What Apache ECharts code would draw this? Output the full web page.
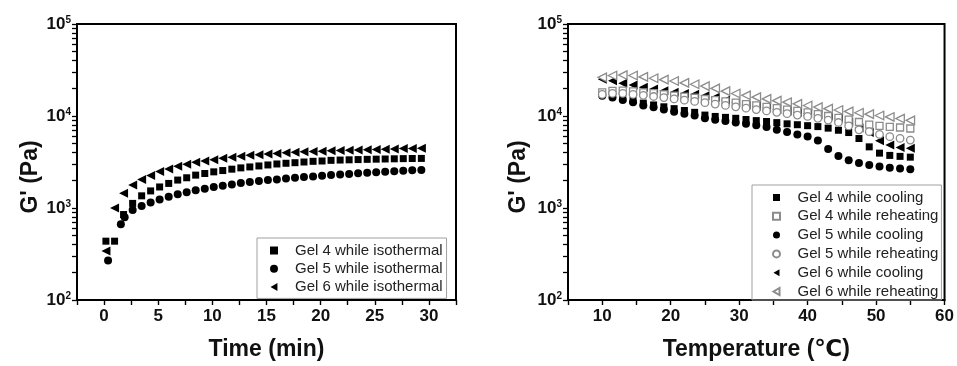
<!DOCTYPE html>
<html>
<head>
<meta charset="utf-8">
<script src="https://cdn.jsdelivr.net/npm/echarts@6/dist/echarts.min.js"></script>
<style>
html,body{margin:0;padding:0;background:#fff;}
#c{width:957px;height:366px;}
</style>
</head>
<body>
<div id="c"></div>
<script>
// ---------- Left panel: isothermal (Time, min) ----------
const timeGrid = [0.17, 0.97, 1.8, 2.64, 3.47, 4.3, 5.13, 5.97, 6.8, 7.63, 8.46, 9.3, 10.13, 10.96, 11.8, 12.63, 13.46, 14.3, 15.13, 15.96, 16.8, 17.63, 18.46, 19.3, 20.13, 20.96, 21.8, 22.63, 23.46, 24.3, 25.13, 25.96, 26.8, 27.63, 28.46, 29.3];
const timeGel5 = [0.37, 1.55, 1.9, 2.64, 3.47, 4.3, 5.13, 5.97, 6.8, 7.63, 8.46, 9.3, 10.13, 10.96, 11.8, 12.63, 13.46, 14.3, 15.13, 15.96, 16.8, 17.63, 18.46, 19.3, 20.13, 20.96, 21.8, 22.63, 23.46, 24.3, 25.13, 25.96, 26.8, 27.63, 28.46, 29.3];
const gel4Iso = [436, 436, 849, 1122, 1356, 1534, 1693, 1850, 2012, 2131, 2277, 2370, 2471, 2553, 2643, 2729, 2795, 2865, 2937, 3010, 3064, 3108, 3162, 3217, 3243, 3296, 3320, 3340, 3360, 3380, 3395, 3410, 3425, 3440, 3450, 3460];
const gel5Iso = [269, 664, 794, 950, 1050, 1151, 1240, 1324, 1413, 1484, 1558, 1624, 1694, 1749, 1806, 1870, 1917, 1963, 2012, 2042, 2094, 2131, 2168, 2200, 2238, 2277, 2310, 2345, 2380, 2415, 2450, 2485, 2515, 2545, 2570, 2590];
const gel6Iso = [340, 1000, 1445, 1778, 2042, 2253, 2488, 2660, 2843, 2985, 3139, 3243, 3350, 3465, 3551, 3641, 3733, 3786, 3854, 3920, 3979, 4048, 4080, 4120, 4150, 4180, 4210, 4240, 4270, 4300, 4330, 4360, 4390, 4420, 4445, 4470];
const leftNames = ['Gel 4 while isothermal', 'Gel 5 while isothermal', 'Gel 6 while isothermal'];
const leftXLabels = [0, 5, 10, 15, 20, 25, 30];
const leftXTicks = [-2.5, 0, 2.5, 5, 7.5, 10, 12.5, 15, 17.5, 20, 22.5, 25, 27.5, 30, 32.5];

// ---------- Right panel: cooling / reheating (Temperature) ----------
const tempGrid = [10, 11.5, 13, 14.5, 16, 17.5, 19, 20.5, 22, 23.5, 25, 26.5, 28, 29.5, 31, 32.5, 34, 35.5, 37, 38.5, 40, 41.5, 43, 44.5, 46, 47.5, 49, 50.5, 52, 53.5, 55];
const gel4Cool = [17580, 16600, 15670, 14790, 13800, 13180, 12590, 12020, 11480, 10960, 10230, 9890, 9660, 9440, 9160, 8910, 8710, 8470, 8220, 8040, 7850, 7670, 7380, 7000, 6610, 5690, 4620, 3950, 3730, 3640, 3570];
const gel4Reheat = [18070, 18710, 18840, 18540, 18070, 17700, 17220, 16670, 16220, 15780, 15310, 14860, 14390, 13960, 13490, 13030, 12590, 12160, 11750, 11350, 10960, 10470, 10000, 9550, 9120, 8610, 8070, 7820, 7620, 7500, 7310];
const gel5Cool = [16600, 15850, 14960, 14130, 13030, 12450, 11750, 11090, 10590, 10120, 9440, 9120, 8810, 8510, 8220, 7940, 7590, 7080, 6680, 6310, 6000, 5430, 4365, 3670, 3310, 3090, 2930, 2820, 2735, 2680, 2630];
const gel5Reheat = [17180, 17580, 17580, 17180, 16790, 16290, 15850, 15350, 14860, 14390, 13960, 13490, 13030, 12590, 12160, 11750, 11350, 10960, 10590, 10230, 9890, 9440, 9020, 8500, 7800, 7080, 6760, 6310, 5960, 5710, 5480];
const gel6Cool = [25100, 24100, 22750, 21700, 20500, 19600, 18800, 18100, 17600, 17200, 16600, 16000, 14800, 13900, 13200, 12800, 12200, 11800, 11300, 11000, 10700, 10300, 10000, 9440, 8630, 7410, 6610, 5370, 4840, 4540, 4470];
const gel6Reheat = [26300, 27540, 27860, 27540, 26600, 25700, 24830, 23990, 22910, 22130, 21130, 19950, 18620, 17580, 16790, 16030, 15350, 14690, 14130, 13550, 13000, 12500, 12020, 11610, 11220, 10840, 10470, 10120, 9770, 9380, 8970];
const rightNames = ['Gel 4 while cooling', 'Gel 4 while reheating', 'Gel 5 while cooling', 'Gel 5 while reheating', 'Gel 6 while cooling', 'Gel 6 while reheating'];
const rightXLabels = [10, 20, 30, 40, 50, 60];
const rightXTicks = [5, 10, 15, 20, 25, 30, 35, 40, 45, 50, 55, 60];

// ---------- shared ----------
const yLabels = [100, 1000, 10000, 100000];
const yTicks = [100, 200, 300, 400, 500, 600, 700, 800, 900, 1000, 2000, 3000, 4000, 5000, 6000, 7000, 8000, 9000, 10000, 20000, 30000, 40000, 50000, 60000, 70000, 80000, 90000, 100000];
const xNames = ['Time (min)', 'Temperature (\u2103)'];
const yName = "G' (Pa)";

const FONT = "'Liberation Sans', Arial, 'DejaVu Sans', 'Noto Sans CJK SC', sans-serif";
const LEFT_TRI = 'path://M0,5L8.66,0L8.66,10Z';
const SQUARE = 'path://M0,0L10,0L10,10L0,10Z';
const BLACK = '#000';
const GREY = '#8c8c8c';

function zip(xs, ys) { return xs.map((x, i) => [x, ys[i]]); }

const yLabelFmt = v => '{b|10}{s|' + Math.round(Math.log10(v)) + '}';
const yRich = {
  b: {fontSize: 17, fontWeight: 'bold', fontFamily: FONT, color: '#111', lineHeight: 18, verticalAlign: 'bottom'},
  s: {fontSize: 10, fontWeight: 'bold', fontFamily: FONT, color: '#111', lineHeight: 10, verticalAlign: 'top'}
};

function makeGrid(left, width) {
  return {left: left, top: 24, width: width, height: 280, show: true, borderColor: BLACK, borderWidth: 2, backgroundColor: 'transparent'};
}

function makeX(gi, min, max, labels, ticks, name) {
  return {
    type: 'value', gridIndex: gi, min: min, max: max,
    name: name, nameLocation: 'middle', nameGap: 38,
    nameTextStyle: {fontSize: 23, fontWeight: 'bold', fontFamily: FONT, color: '#111'},
    axisLine: {show: true, onZero: false, lineStyle: {color: BLACK, width: 2}},
    axisTick: {show: true, inside: false, length: 5, lineStyle: {color: BLACK, width: 1.4}, customValues: ticks},
    axisLabel: {show: true, margin: 8, fontSize: 17, fontWeight: 'bold', fontFamily: FONT, color: '#111', customValues: labels},
    splitLine: {show: false}
  };
}

function makeY(gi, gap) {
  return {
    type: 'log', logBase: 10, gridIndex: gi, min: 100, max: 100000,
    name: yName, nameLocation: 'middle', nameGap: gap, nameRotate: 90,
    nameTextStyle: {fontSize: 23, fontWeight: 'bold', fontFamily: FONT, color: '#111', padding: [0, 30, 0, 0]},
    axisLine: {show: true, onZero: false, lineStyle: {color: BLACK, width: 2}},
    axisTick: {show: true, inside: false, length: 5, lineStyle: {color: BLACK, width: 1.3}, customValues: yTicks},
    axisLabel: {show: true, margin: 6, formatter: yLabelFmt, rich: yRich, customValues: yLabels},
    splitLine: {show: false}
  };
}

function scatter(name, data, xi, yi, symbol, size, filled, z) {
  return {
    type: 'scatter', name: name, xAxisIndex: xi, yAxisIndex: yi,
    data: data, symbol: symbol, symbolSize: size, z: z,
    itemStyle: filled ? {color: BLACK, opacity: 1} : {color: '#fff', borderColor: GREY, borderWidth: 1.3, opacity: 1},
    emphasis: {disabled: true}
  };
}

const legendText = {fontSize: 15, fontFamily: FONT, color: '#222', lineHeight: 15};

const option = {
  animation: false,
  backgroundColor: '#fff',
  grid: [makeGrid(77, 379), makeGrid(568, 380)],
  xAxis: [makeX(0, -2.5, 32.5, leftXLabels, leftXTicks, xNames[0]), makeX(1, 5, 60, rightXLabels, rightXTicks, xNames[1])],
  yAxis: [makeY(0, 31), makeY(1, 38)],
  legend: [{
    data: leftNames, orient: 'vertical', left: 257, top: 238,
    itemWidth: 32, itemHeight: 8, itemGap: 3.2, padding: [5, 4, 4, 13],
    borderColor: '#a0a0a0', borderWidth: 1, selectedMode: false,
    textStyle: legendText
  }, {
    data: rightNames, orient: 'vertical', left: 752, top: 185,
    itemWidth: 32, itemHeight: 7, itemGap: 3.8, padding: [5, 3, 1, 20],
    borderColor: '#a0a0a0', borderWidth: 1, selectedMode: false,
    textStyle: legendText
  }],
  series: [
    scatter(leftNames[0], zip(timeGrid, gel4Iso), 0, 0, SQUARE, 7, true, 2),
    scatter(leftNames[1], zip(timeGel5, gel5Iso), 0, 0, 'circle', 8, true, 2),
    scatter(leftNames[2], zip(timeGrid, gel6Iso), 0, 0, LEFT_TRI, 9, true, 2),
    scatter(rightNames[0], zip(tempGrid, gel4Cool), 1, 1, SQUARE, 7, true, 2),
    scatter(rightNames[1], zip(tempGrid, gel4Reheat), 1, 1, SQUARE, 7, false, 3),
    scatter(rightNames[2], zip(tempGrid, gel5Cool), 1, 1, 'circle', 8, true, 2),
    scatter(rightNames[3], zip(tempGrid, gel5Reheat), 1, 1, 'circle', 7.5, false, 3),
    scatter(rightNames[4], zip(tempGrid, gel6Cool), 1, 1, LEFT_TRI, 9, true, 2),
    scatter(rightNames[5], zip(tempGrid, gel6Reheat), 1, 1, LEFT_TRI, 8.5, false, 3)
  ]
};

const chart = echarts.init(document.getElementById('c'), null, {renderer: 'canvas', width: 957, height: 366});
chart.setOption(option);
</script>
</body>
</html>
